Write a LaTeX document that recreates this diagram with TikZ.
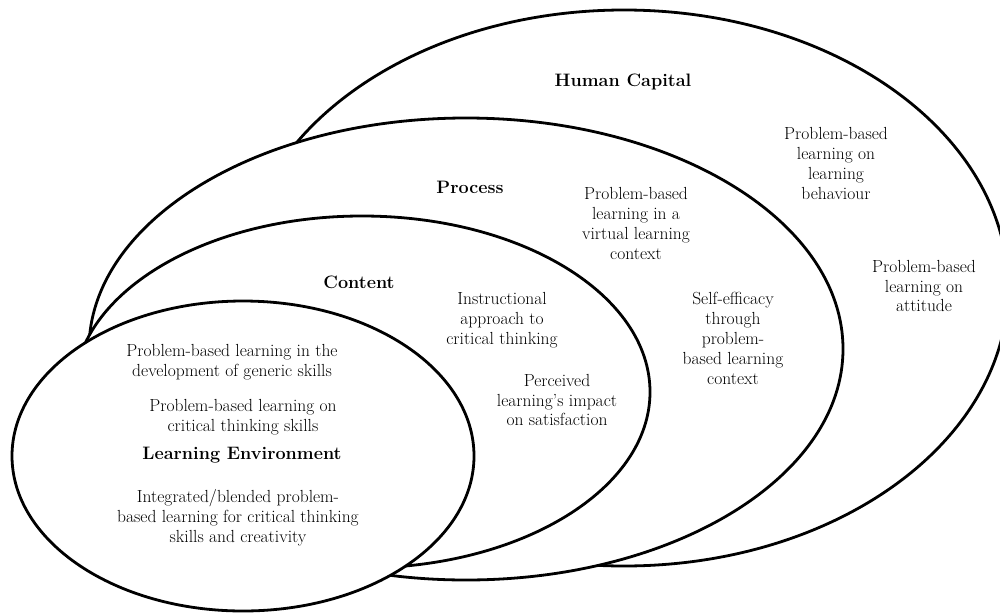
\documentclass[tikz,border=0pt]{standalone}
\usepackage{fontspec}
\usepackage{tikz}
\begin{document}
\begin{tikzpicture}[x=1pt, y=-1pt, oval/.style={draw=black, line width=2.8pt, fill=white}, ttl/.style={font=\fontsize{18}{20}\selectfont\bfseries, text=black, inner sep=0pt}, lbl/.style={font=\fontsize{17.5}{19.8}\selectfont, text=black, align=center, inner sep=0pt}]
\useasboundingbox (0,0) rectangle (1000,613); \clip (0,0) rectangle (1000,613);
\coordinate (hc) at (624,288); \coordinate (pr) at (466,349); \coordinate (ct) at (362,392); \coordinate (le) at (243,456);
\draw[oval] (hc) ellipse [x radius=384pt, y radius=278pt]; \draw[oval] (pr) ellipse [x radius=377pt, y radius=231pt]; \draw[oval] (ct) ellipse [x radius=288pt, y radius=176pt]; \draw[oval] (le) ellipse [x radius=231pt, y radius=155pt];
\node[ttl] (human) at (623,82) {Human Capital}; \node[lbl] (behaviour) at (836,163.5) {Problem-based\\learning on\\learning\\behaviour}; \node[lbl] (attitude) at (924,286) {Problem-based\\learning on\\attitude};
\node[ttl] (process) at (470,187) {Process}; \node[lbl] (virtual) at (636,223.5) {Problem-based\\learning in a\\virtual learning\\context}; \node[lbl] (efficacy) at (733,338.5) {Self-efficacy\\through\\problem-\\based learning\\context};
\node[ttl] (content) at (359,282) {Content}; \node[lbl] (instruct) at (502,320) {Instructional\\approach to\\critical thinking}; \node[lbl] (perceived) at (557,400) {Perceived\\learning's impact\\on satisfaction};
\node[lbl] (generic) at (232,362.5) {Problem-based learning in the\\development of generic skills}; \node[lbl] (critical) at (243,417.5) {Problem-based learning on\\critical thinking skills}; \node[ttl] (environ) at (242,455) {Learning Environment}; \node[lbl] (blended) at (238,517.5) {Integrated/blended problem-\\based learning for critical thinking\\skills and creativity};
\end{tikzpicture}
\end{document}
